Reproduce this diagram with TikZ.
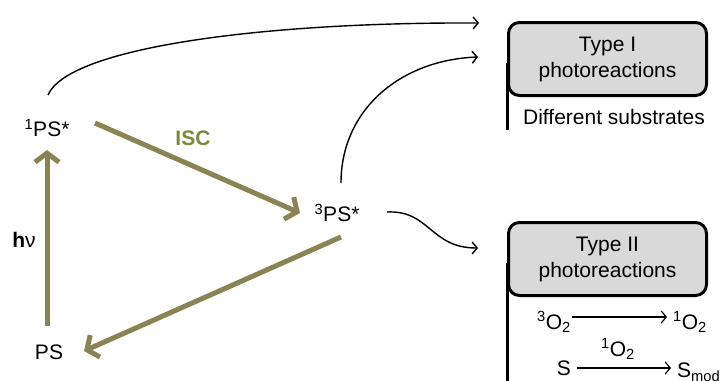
\documentclass[tikz,border=0pt]{standalone}
\usepackage{fontspec}
\setmainfont{Liberation Sans}
\usetikzlibrary{arrows.meta,positioning}
\definecolor{oliveArrow}{RGB}{139,131,84}
\definecolor{iscGreen}{RGB}{122,140,58}
\definecolor{boxGray}{RGB}{217,217,217}
\tikzset{
  lbl/.style={inner sep=1pt, font=\fontsize{21}{26}\selectfont},
  small/.style={inner sep=1pt, font=\fontsize{21}{26}\selectfont},
  heavy/.style={draw=oliveArrow, line width=5pt, line cap=butt,
    -{Straight Barb[length=9pt,width=24pt,line width=5pt]}},
  thin/.style={draw=black, line width=1.4pt,
    -{Straight Barb[length=5pt,width=12pt,line width=1.4pt]}},
  rx/.style={draw=black, line width=1.2pt, shorten >=5pt,
    -{Straight Barb[length=5pt,width=12pt,line width=1.2pt]}},
  typebox/.style={draw=black, line width=3pt, fill=boxGray, rounded corners=11pt,
    minimum width=198pt, minimum height=73pt, align=center, inner sep=0pt,
    font=\fontsize{21}{26}\selectfont},
  rail/.style={draw=black, line width=3pt},
}
\begin{document}
\begin{tikzpicture}[x=1pt,y=-1pt]
  \useasboundingbox (0,0) rectangle (722,380);
  \clip (0,0) rectangle (722,380);

  % photosensitiser states
  \node[lbl] (ps1) at (47,128) {\textsuperscript{1}PS*};
  \node[lbl] (ps3) at (337,213) {\textsuperscript{3}PS*};
  \node[lbl] (ps)  at (49,352) {PS};
  \node[lbl] (hv)  at (24,240) {\textbf{h}ν};
  \node[lbl, text=iscGreen, font=\bfseries\fontsize{21}{26}\selectfont] (isc) at (193,138) {ISC};

  % reaction boxes
  \node[typebox] (t1) at (607.5,59) {Type I\\photoreactions};
  \node[lbl] (subs) at (614,117) {Different substrates};
  \draw[rail] ([yshift=-4pt]t1.west) -- (t1.west |- 0,130);

  \node[typebox] (t2) at (607.5,259) {Type II\\photoreactions};
  \draw[rail] ([yshift=-4pt]t2.west) -- (t2.west |- 0,385);

  % type II reactions
  \node[small, anchor=east] (o3) at (572,322) {\textsuperscript{3}O\textsubscript{2}};
  \node[small, anchor=west] (o1) at (672,322) {\textsuperscript{1}O\textsubscript{2}};
  \draw[rx] (o3.east |- 0,317) -- (o1.west |- 0,317);
  \node[small, anchor=east] (s) at (572,368) {S};
  \node[small, anchor=west] (smod) at (676,372) {S\textsubscript{mod}};
  \draw[rx] (s.east |- 0,368) ++(5,0) coordinate (sa) -- (smod.west |- 0,368) coordinate (sb);
  \node[small] (o1b) at (618,349) {\textsuperscript{1}O\textsubscript{2}};

  % arrow end points of the energy transitions
  \coordinate (hvA) at (47,326);
  \coordinate (hvB) at (47,150);
  \coordinate (iscA) at (95,123);
  \coordinate (iscB) at (300,213);
  \coordinate (decA) at (341,237);
  \coordinate (decB) at (84,351);

  \draw[heavy] (hvA) -- (hvB);
  \draw[heavy] (iscA) -- (iscB);
  \draw[heavy] (decA) -- (decB);

  % pathways towards the photoreactions
  \coordinate (topA) at (48,95);
  \coordinate (topB) at (479,23);
  \coordinate (midA) at (341,183);
  \coordinate (midB) at (478,57);
  \coordinate (lowA) at (387,212);
  \coordinate (lowB) at (478,248);

  \draw[thin] (topA) .. controls (68,48) and (260,22) .. (topB);
  \draw[thin] (midA) .. controls (341,110) and (400,60) .. (midB);
  \draw[thin] (lowA) .. controls (430,210) and (430,248) .. (lowB);
\end{tikzpicture}
\end{document}
